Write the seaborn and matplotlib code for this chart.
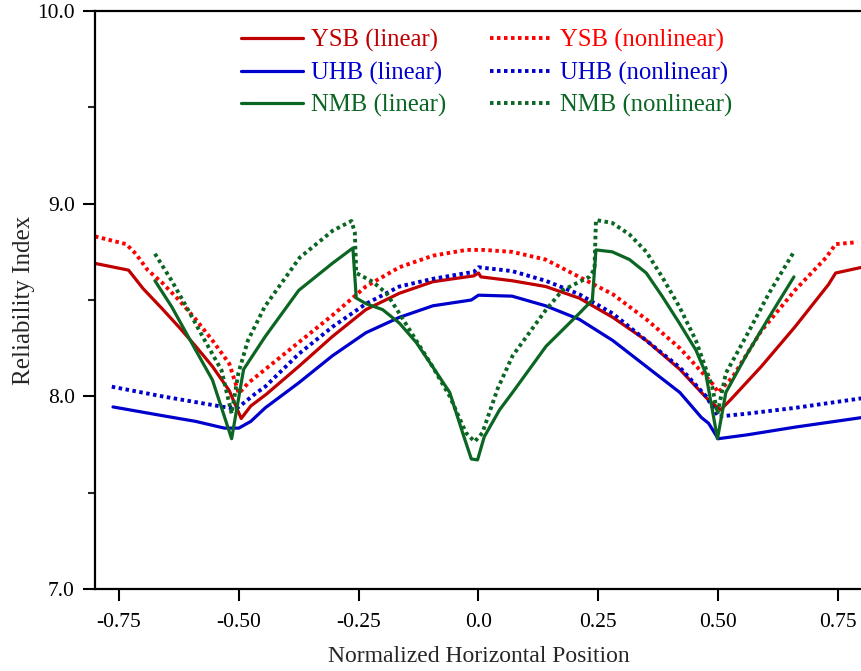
import matplotlib
matplotlib.use("Agg")
import matplotlib.pyplot as plt
import seaborn as sns
import pandas as pd
from matplotlib.ticker import MultipleLocator, FixedLocator

# ---------------- data ----------------
ysb_lin_x = [-0.80, -0.73, -0.70, -0.66, -0.625, -0.59, -0.555, -0.52, -0.495, -0.475, -0.443,
             -0.375, -0.305, -0.235, -0.165, -0.095, -0.025, -0.01, 0.0, 0.005, 0.07, 0.14,
             0.21, 0.28, 0.35, 0.42, 0.48, 0.505, 0.525, 0.59, 0.66, 0.73, 0.745, 0.80]
ysb_lin_y = [8.69, 8.655, 8.56, 8.455, 8.36, 8.26, 8.155, 8.03, 7.885, 7.95, 8.01,
             8.155, 8.31, 8.45, 8.535, 8.595, 8.62, 8.625, 8.64, 8.62, 8.60, 8.57,
             8.51, 8.41, 8.29, 8.14, 7.98, 7.93, 7.98, 8.155, 8.36, 8.58, 8.64, 8.67]

ysb_non_x = [-0.80, -0.735, -0.715, -0.69, -0.66, -0.625, -0.59, -0.555, -0.52, -0.50, -0.48,
             -0.445, -0.375, -0.305, -0.235, -0.165, -0.095, -0.025, 0.01, 0.07, 0.14, 0.21,
             0.28, 0.35, 0.42, 0.49, 0.50, 0.53, 0.59, 0.66, 0.725, 0.745, 0.79]
ysb_non_y = [8.83, 8.79, 8.74, 8.655, 8.59, 8.50, 8.40, 8.29, 8.17, 8.015, 8.07,
             8.14, 8.28, 8.42, 8.57, 8.67, 8.73, 8.76, 8.76, 8.75, 8.71, 8.62,
             8.53, 8.40, 8.25, 8.06, 8.02, 8.10, 8.34, 8.55, 8.72, 8.79, 8.80]

uhb_lin_x = [-0.7625, -0.66, -0.59, -0.53, -0.50, -0.475, -0.445, -0.375, -0.305, -0.235,
             -0.165, -0.095, -0.015, 0.0, 0.07, 0.14, 0.21, 0.28, 0.35, 0.42, 0.465, 0.48,
             0.50, 0.56, 0.66, 0.80]
uhb_lin_y = [7.945, 7.90, 7.87, 7.835, 7.835, 7.87, 7.94, 8.07, 8.21, 8.33,
             8.41, 8.47, 8.50, 8.525, 8.52, 8.47, 8.40, 8.29, 8.155, 8.02, 7.89, 7.86,
             7.78, 7.80, 7.84, 7.89]

uhb_non_x = [-0.765, -0.66, -0.59, -0.52, -0.50, -0.465, -0.445, -0.375, -0.305, -0.235,
             -0.165, -0.095, -0.025, -0.01, 0.0, 0.07, 0.14, 0.21, 0.28, 0.35, 0.42, 0.475,
             0.50, 0.56, 0.66, 0.80]
uhb_non_y = [8.05, 8.0, 7.97, 7.94, 7.945, 8.015, 8.05, 8.22, 8.36, 8.48,
             8.57, 8.61, 8.64, 8.645, 8.67, 8.65, 8.60, 8.53, 8.43, 8.29, 8.15, 8.00,
             7.895, 7.91, 7.94, 7.99]

nmb_lin_x = [-0.675, -0.64, -0.59, -0.555, -0.515, -0.49, -0.445, -0.375, -0.305, -0.262,
             -0.255, -0.234, -0.20, -0.165, -0.13, -0.096, -0.06, -0.033, -0.015, -0.002,
             0.012, 0.044, 0.071, 0.141, 0.21, 0.2375, 0.245, 0.279, 0.315, 0.35, 0.383,
             0.419, 0.4535, 0.474, 0.4985, 0.516, 0.558, 0.606, 0.658]
nmb_lin_y = [8.60, 8.465, 8.24, 8.085, 7.78, 8.14, 8.31, 8.55, 8.69, 8.77,
             8.51, 8.48, 8.45, 8.38, 8.28, 8.155, 8.02, 7.81, 7.675, 7.67,
             7.79, 7.93, 8.02, 8.26, 8.43, 8.50, 8.76, 8.75, 8.71, 8.64, 8.52,
             8.38, 8.24, 8.12, 7.78, 8.02, 8.21, 8.41, 8.62]

nmb_non_x = [-0.675, -0.64, -0.606, -0.571, -0.536, -0.515, -0.501, -0.481, -0.446, -0.373,
             -0.304, -0.265, -0.258, -0.255, -0.221, -0.192, -0.165, -0.13, -0.096, -0.06,
             -0.026, -0.008, 0.008, 0.040, 0.071, 0.141, 0.175, 0.231, 0.242, 0.245, 0.279,
             0.315, 0.35, 0.383, 0.419, 0.4535, 0.4875, 0.4985, 0.516, 0.558, 0.606, 0.658]
nmb_non_y = [8.74, 8.60, 8.45, 8.29, 8.135, 7.91, 8.12, 8.29, 8.465, 8.72,
             8.86, 8.91, 8.85, 8.64, 8.595, 8.535, 8.43, 8.29, 8.155, 8.0,
             7.81, 7.765, 7.81, 8.04, 8.21, 8.45, 8.55, 8.62, 8.66, 8.915, 8.90,
             8.84, 8.75, 8.62, 8.465, 8.29, 8.05, 7.91, 8.12, 8.31, 8.535, 8.75]

series_names = ["YSB (linear)", "YSB (nonlinear)", "UHB (linear)", "UHB (nonlinear)",
                "NMB (linear)", "NMB (nonlinear)"]
x_tick_vals = [-0.75, -0.50, -0.25, 0.0, 0.25, 0.50, 0.75]
x_tick_labels = ["-0.75", "-0.50", "-0.25", "0.0", "0.25", "0.50", "0.75"]
y_tick_vals = [7.0, 8.0, 9.0, 10.0]
y_tick_labels = ["7.0", "8.0", "9.0", "10.0"]

# ---------------- styling ----------------
sns.set_style("ticks")
plt.rcParams["font.family"] = ["Liberation Serif", "DejaVu Serif"]

colors = {
    "YSB (linear)": "#c00000",
    "YSB (nonlinear)": "#ff0000",
    "UHB (linear)": "#0000cc",
    "UHB (nonlinear)": "#0000cc",
    "NMB (linear)": "#0b6623",
    "NMB (nonlinear)": "#0b6623",
}
dotted = (0, (0.9, 0.9))
styles = {
    "YSB (linear)": "-",
    "YSB (nonlinear)": dotted,
    "UHB (linear)": "-",
    "UHB (nonlinear)": dotted,
    "NMB (linear)": "-",
    "NMB (nonlinear)": dotted,
}
widths = {n: (2.3 if styles[n] == "-" else 2.8) for n in series_names}

data_pairs = {
    "YSB (linear)": (ysb_lin_x, ysb_lin_y),
    "YSB (nonlinear)": (ysb_non_x, ysb_non_y),
    "UHB (linear)": (uhb_lin_x, uhb_lin_y),
    "UHB (nonlinear)": (uhb_non_x, uhb_non_y),
    "NMB (linear)": (nmb_lin_x, nmb_lin_y),
    "NMB (nonlinear)": (nmb_non_x, nmb_non_y),
}

frames = []
for name in series_names:
    xs, ys = data_pairs[name]
    frames.append(pd.DataFrame({"x": xs, "y": ys, "series": name}))
df = pd.concat(frames, ignore_index=True)

fig = plt.figure(figsize=(8.62, 6.71), dpi=100)
ax = fig.add_axes([95 / 862, 1 - 589 / 671, 1 - 95 / 862, (589 - 11) / 671])

for name in series_names:
    sub = df[df["series"] == name]
    sns.lineplot(data=sub, x="x", y="y", ax=ax, color=colors[name], linestyle=styles[name],
                 linewidth=widths[name], estimator=None, sort=False, label=name, legend=False)

ax.set_xlim(-0.8, 0.8)
ax.set_ylim(7.0, 10.0)

ax.xaxis.set_major_locator(FixedLocator(x_tick_vals))
ax.set_xticklabels(x_tick_labels)
ax.yaxis.set_major_locator(FixedLocator(y_tick_vals))
ax.set_yticklabels(y_tick_labels)
ax.yaxis.set_minor_locator(MultipleLocator(0.5))

ax.tick_params(axis="both", which="major", direction="out", length=8.5, width=1.5,
               labelsize=15.5, color="black", labelcolor="black")
ax.tick_params(axis="x", which="major", pad=9)
ax.tick_params(axis="y", which="major", pad=6)
ax.tick_params(axis="y", which="minor", direction="out", length=5, width=1.5)
ax.tick_params(axis="x", which="minor", length=0)

for s in ["left", "bottom", "top"]:
    ax.spines[s].set_linewidth(1.6)
    ax.spines[s].set_color("black")
ax.spines["right"].set_visible(False)

ax.set_xlabel("Normalized Horizontal Position", fontsize=17, labelpad=10)
ax.set_ylabel("Reliability Index", fontsize=18, labelpad=1.5)

# legend: two columns, three rows
handles, labels = ax.get_legend_handles_labels()
order = [0, 2, 4, 1, 3, 5]
leg = ax.legend([handles[i] for i in order], [labels[i] for i in order], ncol=2,
                frameon=False, fontsize=17.8, handlelength=2.5, handletextpad=0.35,
                columnspacing=1.75, labelspacing=0.38, loc="upper left",
                bbox_to_anchor=(241 / 862, 1 - 29 / 671), bbox_transform=fig.transFigure,
                borderaxespad=0, borderpad=0)
for txt, i in zip(leg.get_texts(), order):
    txt.set_color(colors[labels[i]])

fig.savefig("out.png", dpi=100)
